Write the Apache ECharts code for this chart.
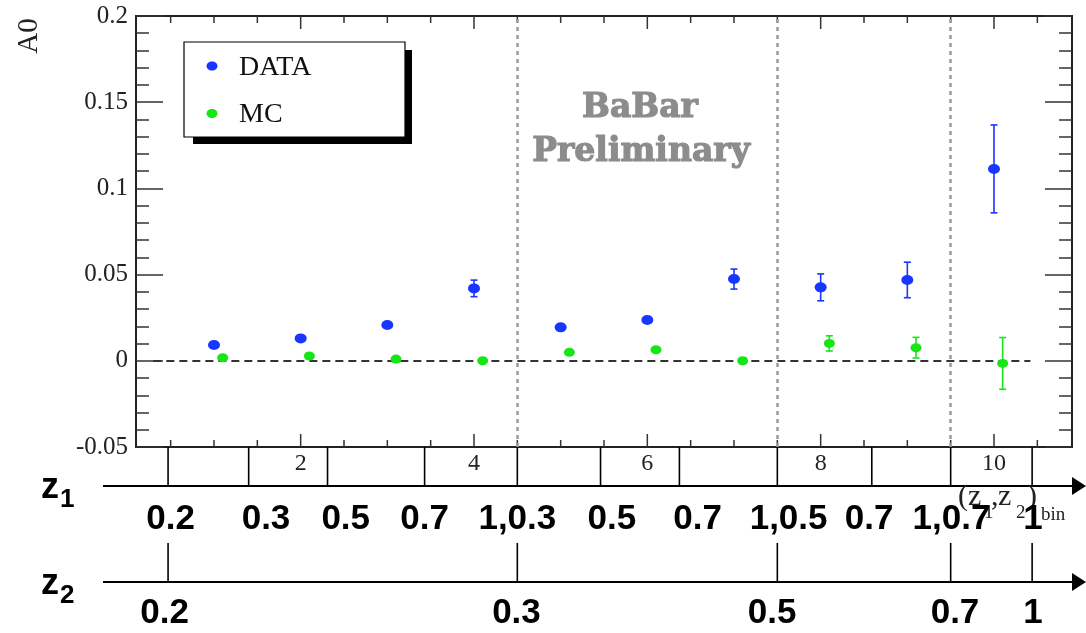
<!DOCTYPE html>
<html><head><meta charset="utf-8">
<script src="https://cdn.jsdelivr.net/npm/echarts@6/dist/echarts.min.js"></script>
<style>html,body{margin:0;padding:0;background:#fff}#c{width:1086px;height:633px}</style>
</head><body><div id="c"></div>
<script>
// ---------------- data ----------------
const dataBins = [1, 2, 3, 4, 5, 6, 7, 8, 9, 10];
const dataA0  = [0.0092, 0.0130, 0.0208, 0.0420, 0.0194, 0.0237, 0.0474, 0.0426, 0.0469, 0.1113];
const dataErr = [0.0016, 0.0016, 0.0016, 0.0048, 0.0016, 0.0016, 0.0058, 0.0078, 0.0103, 0.0255];
const mcBins = [1.1, 2.1, 3.1, 4.1, 5.1, 6.1, 7.1, 8.1, 9.1, 10.1];
const mcA0  = [0.0018, 0.0028, 0.0010, 0.0000, 0.0049, 0.0064, 0.0000, 0.0101, 0.0076, -0.0015];
const mcErr = [0.0010, 0.0010, 0.0010, 0.0012, 0.0014, 0.0014, 0.0015, 0.0044, 0.0060, 0.0150];
const seriesNames = ['DATA', 'MC'];

const xTicks = [0.5, 1, 1.5, 2, 2.5, 3, 3.5, 4, 4.5, 5, 5.5, 6, 6.5, 7, 7.5, 8, 8.5, 9, 9.5, 10, 10.5];
const xMajorTicks = [2, 4, 6, 8, 10];
const xTickLabels = ['2', '4', '6', '8', '10'];
const dividers = [4.5, 7.5, 9.5];

const z1Edges  = [0.47, 1.40, 2.31, 3.43, 4.5, 5.46, 6.37, 7.5, 8.59, 9.5, 10.44];
const z1Labels = ['0.2', '0.3', '0.5', '0.7', '1,0.3', '0.5', '0.7', '1,0.5', '0.7', '1,0.7', '1'];
const z2Edges  = [0.47, 4.5, 7.5, 9.5, 10.44];
const z2Labels = ['0.2', '0.3', '0.5', '0.7', '1'];

// ---------------- layout ----------------
const z1LabelAt = [0.50, 1.60, 2.52, 3.43, 4.50, 5.59, 6.58, 7.63, 8.56, 9.51, 10.45];
const z2LabelAt = [0.43, 4.49, 7.44, 9.55, 10.45];
const Z1_Y = 486, Z2_Y = 582, Z2_TICK_TOP = 543, Z1_LABEL_Y = 519, Z2_LABEL_Y = 613;
const LINE_X0 = 103, ARROW_TIP = 1086;
const BLUE = '#1836ff', GREEN = '#16e616';
const ELLIPSE = 'path://M0,45A55,45 0 1,1 110,45A55,45 0 1,1 0,45Z';
const SERIF = 'Liberation Serif';
const SANS = 'Liberation Sans';

const chart = echarts.init(document.getElementById('c'), null, {renderer: 'canvas'});

function errRender(color) {
  return function (params, api) {
    const x = api.value(0), y = api.value(1), e = api.value(2);
    const top = api.coord([x, y + e]);
    const bot = api.coord([x, y - e]);
    const st = {stroke: color, lineWidth: 1.6};
    return {type: 'group', children: [
      {type: 'line', shape: {x1: top[0], y1: top[1], x2: bot[0], y2: bot[1]}, style: st},
      {type: 'line', shape: {x1: top[0] - 3.5, y1: top[1], x2: top[0] + 3.5, y2: top[1]}, style: st},
      {type: 'line', shape: {x1: bot[0] - 3.5, y1: bot[1], x2: bot[0] + 3.5, y2: bot[1]}, style: st}
    ]};
  };
}

function renderTicks(params, api) {
  const kids = [];
  const yb = api.coord([0, -0.05])[1];
  const yt = api.coord([0, 0.2])[1];
  xTicks.forEach(t => {
    const x = api.coord([t, 0])[0];
    const major = xMajorTicks.indexOf(t) >= 0;
    const len = major ? 13 : 7;
    const st = {stroke: '#333', lineWidth: 1.5};
    kids.push({type: 'line', shape: {x1: x, y1: yb, x2: x, y2: yb - len}, style: st});
    kids.push({type: 'line', shape: {x1: x, y1: yt, x2: x, y2: yt + len}, style: st});
  });
  xMajorTicks.forEach((t, i) => {
    const x = api.coord([t, 0])[0];
    kids.push({type: 'text', x: x, y: yb + 17, style: {text: xTickLabels[i], fontFamily: SERIF, fontSize: 24, fill: '#222', align: 'center', verticalAlign: 'middle'}});
  });
  return {type: 'group', children: kids};
}

function renderTable(params, api) {
  const kids = [];
  const yb = api.coord([0, -0.05])[1];
  const ln = {stroke: '#000', lineWidth: 1.6};
  z1Edges.forEach(e => {
    const x = api.coord([e, 0])[0];
    kids.push({type: 'line', shape: {x1: x, y1: yb, x2: x, y2: Z1_Y}, style: ln});
  });
  z2Edges.forEach(e => {
    const x = api.coord([e, 0])[0];
    kids.push({type: 'line', shape: {x1: x, y1: Z2_TICK_TOP, x2: x, y2: Z2_Y}, style: ln});
  });
  [Z1_Y, Z2_Y].forEach(y => {
    kids.push({type: 'line', shape: {x1: LINE_X0, y1: y, x2: ARROW_TIP - 8, y2: y}, style: {stroke: '#000', lineWidth: 2}});
    kids.push({type: 'polygon', shape: {points: [[ARROW_TIP - 14, y - 9], [ARROW_TIP, y], [ARROW_TIP - 14, y + 9]]}, style: {fill: '#000'}});
  });
  // (z1,z2)bin axis title (ROOT style)
  const tf = {fontFamily: SERIF, fill: '#222', align: 'left', verticalAlign: 'middle'};
  const pieces = [
    ['(', 958, 497.5, 30], ['z', 968, 497.5, 30], ['1', 984, 513.5, 19], [',', 991, 497.5, 30],
    ['z', 998, 497.5, 30], ['2', 1016, 513.5, 19], [')', 1027, 497.5, 30], ['bin', 1041, 515, 19]
  ];
  pieces.forEach(p => kids.push({type: 'text', x: p[1], y: p[2], style: Object.assign({text: p[0], fontSize: p[3]}, tf)}));
  const bold = {fontFamily: SANS, fontWeight: 'bold', fontSize: 35, fill: '#000', align: 'center', verticalAlign: 'middle'};
  z1Labels.forEach((t, i) => {
    const x = api.coord([z1LabelAt[i], 0])[0];
    kids.push({type: 'text', x: x, y: Z1_LABEL_Y, style: Object.assign({text: t}, bold)});
  });
  z2Labels.forEach((t, i) => {
    const x = api.coord([z2LabelAt[i], 0])[0];
    kids.push({type: 'text', x: x, y: Z2_LABEL_Y, style: Object.assign({text: t}, bold)});
  });
  // z1 / z2 names
  const zst = {fontFamily: SANS, fontWeight: 'bold', fill: '#000', align: 'left', verticalAlign: 'middle'};
  [[Z1_Y, '1'], [Z2_Y, '2']].forEach(([y, s]) => {
    kids.push({type: 'text', x: 41, y: y + 2, style: Object.assign({text: 'z', fontSize: 36}, zst)});
    kids.push({type: 'text', x: 60, y: y + 14, style: Object.assign({text: s, fontSize: 26}, zst)});
  });
  return {type: 'group', children: kids};
}

const yAxisCommon = {
  type: 'value', min: -0.05, max: 0.2, interval: 0.05,
  axisLine: {show: false}, splitLine: {show: false},
  axisTick: {show: true, inside: true, length: 27, lineStyle: {color: '#333', width: 1.5}},
  minorTick: {show: true, splitNumber: 5, length: 13, lineStyle: {color: '#333', width: 1.5}}
};

chart.setOption({
  animation: false,
  backgroundColor: '#fff',
  grid: {left: 136, right: 14, top: 16, bottom: 186, show: true, borderColor: '#222', borderWidth: 2, backgroundColor: 'transparent'},
  xAxis: {type: 'value', min: 0.1, max: 10.9, axisLine: {show: false}, axisTick: {show: false}, axisLabel: {show: false}, splitLine: {show: false}},
  yAxis: [
    Object.assign({}, yAxisCommon, {position: 'left', axisLabel: {show: true, margin: 8, fontFamily: SERIF, fontSize: 25, color: '#222'}}),
    Object.assign({}, yAxisCommon, {position: 'right', axisLabel: {show: false}})
  ],
  graphic: [
    {type: 'text', x: 29, y: 36, rotation: Math.PI / 2, style: {text: 'A0', fontFamily: SERIF, fontSize: 29, fill: '#222', align: 'center', verticalAlign: 'middle'}},
    {type: 'text', x: 640, y: 108, style: {text: 'BaBar', fontFamily: 'DejaVu Serif', fontWeight: 'bold', fontSize: 33, fill: '#8c8c8c', stroke: '#8c8c8c', lineWidth: 1.2, align: 'center', verticalAlign: 'middle'}},
    {type: 'text', x: 641, y: 152, style: {text: 'Preliminary', fontFamily: 'DejaVu Serif', fontWeight: 'bold', fontSize: 33, fill: '#8c8c8c', stroke: '#8c8c8c', lineWidth: 1.2, align: 'center', verticalAlign: 'middle'}},
    // legend box (ROOT TLegend with shadow)
    {type: 'group', z: 100, children: [
      {type: 'rect', shape: {x: 193, y: 50, width: 219, height: 94}, style: {fill: '#000'}},
      {type: 'rect', shape: {x: 184, y: 42, width: 221, height: 95}, style: {fill: '#fff', stroke: '#000', lineWidth: 1.2}},
      {type: 'ellipse', shape: {cx: 212, cy: 66, rx: 5.5, ry: 4.6}, style: {fill: BLUE}},
      {type: 'ellipse', shape: {cx: 212, cy: 113.5, rx: 5.5, ry: 4.6}, style: {fill: GREEN}},
      {type: 'text', x: 239, y: 67.2, style: {text: seriesNames[0], fontFamily: SERIF, fontSize: 28, fill: '#111', align: 'left', verticalAlign: 'middle'}},
      {type: 'text', x: 239, y: 114.5, style: {text: seriesNames[1], fontFamily: SERIF, fontSize: 28, fill: '#111', align: 'left', verticalAlign: 'middle'}}
    ]}
  ],
  series: [
    {type: 'custom', name: 'ticks', silent: true, renderItem: renderTicks, data: [[5, 0]], z: 3},
    {type: 'custom', name: 'table', silent: true, renderItem: renderTable, data: [[5, 0]], z: 3},
    {type: 'custom', name: 'DATA err', silent: true, renderItem: errRender(BLUE),
      data: dataBins.map((x, i) => [x, dataA0[i], dataErr[i]]), z: 4},
    {type: 'custom', name: 'MC err', silent: true, renderItem: errRender(GREEN),
      data: mcBins.map((x, i) => [x, mcA0[i], mcErr[i]]), z: 4},
    {type: 'scatter', name: seriesNames[0], symbol: ELLIPSE, symbolSize: [12, 10], itemStyle: {color: BLUE, opacity: 1},
      data: dataBins.map((x, i) => [x, dataA0[i]]), z: 5,
      markLine: {silent: true, symbol: ['none', 'none'], label: {show: false}, animation: false,
        data: [
          [{coord: [0.3, 0], lineStyle: {color: '#333', width: 2, type: [8, 5]}}, {coord: [10.42, 0]}]
        ].concat(dividers.map(d => ({xAxis: d, lineStyle: {color: '#9a9a9a', width: 2.5, type: [4, 4]}})))
      }},
    {type: 'scatter', name: seriesNames[1], symbol: ELLIPSE, symbolSize: [11, 9], itemStyle: {color: GREEN, opacity: 1},
      data: mcBins.map((x, i) => [x, mcA0[i]]), z: 5}
  ]
});
</script></body></html>
